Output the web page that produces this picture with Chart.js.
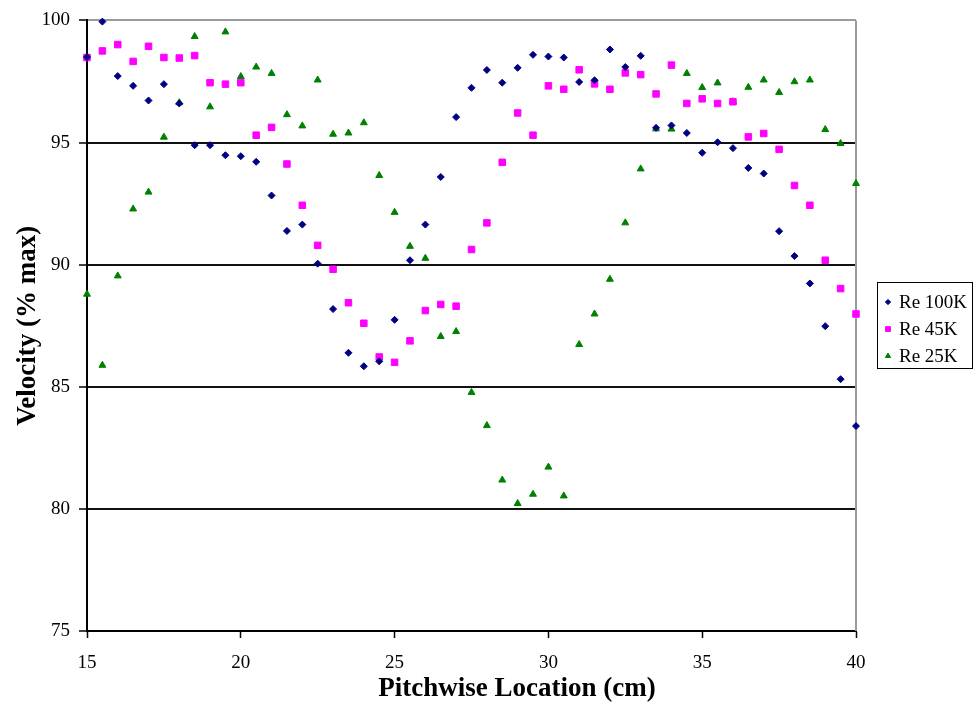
<!DOCTYPE html>
<html>
<head>
<meta charset="utf-8">
<title>Velocity vs Pitchwise Location</title>
<script src="https://cdn.jsdelivr.net/npm/chart.js@4/dist/chart.umd.min.js"></script>
<style>
  body { margin: 0; background: #fff; }
</style>
</head>
<body>
<canvas id="grafico" width="977" height="706"></canvas>
<script>
// pitchwise positions (cm)
const locations = [15, 15.5, 16, 16.5, 17, 17.5, 18, 18.5, 19, 19.5, 20, 20.5, 21, 21.5, 22, 22.5,
    23, 23.5, 24, 24.5, 25, 25.5, 26, 26.5, 27, 27.5, 28, 28.5, 29, 29.5, 30, 30.5, 31, 31.5,
    32, 32.5, 33, 33.5, 34, 34.5, 35, 35.5, 36, 36.5, 37, 37.5, 38, 38.5, 39, 39.5, 40];

const re100k = [98.5, 99.95, 97.72, 97.32, 96.72, 97.39, 96.6, 94.89, 94.89, 94.48, 94.44,
    94.21, 92.83, 91.38, 91.64, 90.04, 88.18, 86.39, 85.84, 86.04, 87.74, 90.18, 91.64, 93.59,
    96.04, 97.24, 97.97, 97.45, 98.06, 98.59, 98.52, 98.48, 97.48, 97.55, 98.81, 98.09, 98.55,
    95.6, 95.7, 95.39, 94.58, 95.01, 94.77, 93.96, 93.73, 91.37, 90.35, 89.23, 87.48, 85.31, 83.39];

const re45k = [98.48, 98.75, 99.01, 98.32, 98.94, 98.48, 98.46, 98.56, 97.45, 97.39, 97.45,
    95.3, 95.62, 94.12, 92.43, 90.79, 89.81, 88.44, 87.6, 86.22, 86.0, 86.88, 88.12, 88.37,
    88.3, 90.62, 91.71, 94.19, 96.21, 95.3, 97.32, 97.18, 97.98, 97.4, 97.18, 97.85, 97.78,
    96.99, 98.17, 96.6, 96.79, 96.6, 96.67, 95.23, 95.37, 94.72, 93.24, 92.43, 90.18, 89.02, 87.98];

const re25k = [88.79, 85.88, 89.54, 92.28, 92.97, 95.22, 96.63, 99.34, 96.46, 99.53, 97.7,
    98.09, 97.83, 96.14, 95.68, 97.56, 95.34, 95.39, 95.81, 93.65, 92.14, 90.75, 90.26, 87.06,
    87.26, 84.77, 83.41, 81.18, 80.22, 80.6, 81.71, 80.53, 86.73, 87.98, 89.4, 91.71, 93.92,
    95.56, 95.55, 97.83, 97.25, 97.44, 96.67, 97.26, 97.56, 97.05, 97.49, 97.56, 95.53, 94.96, 93.32];

const seriesNames = ['Re 100K', 'Re 45K', 'Re 25K'];
const xTicks = [15, 20, 25, 30, 35, 40];
const yTicks = [75, 80, 85, 90, 95, 100];
const xTitle = 'Pitchwise Location (cm)';
const yTitle = 'Velocity (% max)';

const serif = "'Liberation Serif', 'Times New Roman', serif";
const toPoints = vals => locations.map((x, i) => ({x: x, y: vals[i]}));

const styles = [
    {color: '#000080', pointStyle: 'rectRot', radius: 3.5},
    {color: '#ff00ff', pointStyle: 'rect', radius: 4.6},
    {color: '#008000', pointStyle: 'triangle', radius: 4}
];

// gray frame on the right side of the plot
const frame = {
    id: 'frame',
    beforeDatasetsDraw(chart) {
        const {ctx, chartArea: a} = chart;
        ctx.save();
        ctx.strokeStyle = '#9a9a9a';
        ctx.lineWidth = 2;
        ctx.beginPath();
        ctx.moveTo(a.right, a.top);
        ctx.lineTo(a.right, a.bottom);
        ctx.stroke();
        ctx.restore();
    }
};

// x title (sits right of the plot centre in the original) + boxed legend
const extras = {
    id: 'extras',
    afterDraw(chart) {
        const ctx = chart.ctx;
        ctx.save();
        ctx.fillStyle = '#000';
        ctx.font = 'bold 27px ' + serif;
        ctx.textAlign = 'center';
        ctx.textBaseline = 'middle';
        ctx.fillText(xTitle, 517, 689);

        ctx.textAlign = 'left';
        ctx.strokeStyle = '#000';
        ctx.lineWidth = 1;
        ctx.strokeRect(877.5, 282.5, 95, 86);
        ctx.font = '19px ' + serif;
        const rows = [302, 329, 356];
        seriesNames.forEach((name, i) => {
            const st = styles[i];
            ctx.fillStyle = st.color;
            ctx.strokeStyle = st.color;
            Chart.helpers.drawPoint(ctx, {
                pointStyle: st.pointStyle,
                radius: st.radius * 0.75,
                rotation: 0,
                borderWidth: 1
            }, 888, rows[i]);
            ctx.fillStyle = '#000';
            ctx.fillText(name, 899, rows[i] + 1);
        });
        ctx.restore();
    }
};

const ctx = document.getElementById('grafico');
const chart = new Chart(ctx, {
    type: 'scatter',
    data: {
        datasets: [re100k, re45k, re25k].map((vals, i) => ({
            label: seriesNames[i],
            data: toPoints(vals),
            pointStyle: styles[i].pointStyle,
            pointRadius: styles[i].radius,
            pointHoverRadius: styles[i].radius,
            backgroundColor: styles[i].color,
            borderColor: styles[i].color,
            borderWidth: 1,
            showLine: false,
            clip: false
        }))
    },
    options: {
        responsive: false,
        animation: false,
        layout: {
            padding: {top: 16, right: 121, bottom: 0, left: 0}
        },
        plugins: {
            legend: {display: false},
            tooltip: {enabled: false}
        },
        scales: {
            x: {
                type: 'linear',
                position: 'bottom',
                min: 15,
                max: 40,
                afterBuildTicks: s => { s.ticks = xTicks.map(v => ({value: v})); },
                afterFit: s => { s.height = 75; },
                ticks: {
                    font: {family: serif, size: 19},
                    color: '#000',
                    padding: 14,
                    maxRotation: 0
                },
                grid: {
                    drawOnChartArea: false,
                    drawTicks: true,
                    tickLength: 7,
                    tickColor: '#000',
                    tickWidth: 1.5
                },
                border: {color: '#000', width: 2}
            },
            y: {
                min: 75,
                max: 100,
                afterBuildTicks: s => { s.ticks = yTicks.map(v => ({value: v})); },
                afterFit: s => { s.width = 87; },
                ticks: {
                    font: {family: serif, size: 19},
                    color: '#000',
                    padding: 9
                },
                grid: {
                    color: c => (c.tick && c.tick.value === 100) ? '#9a9a9a' : '#111',
                    lineWidth: 2,
                    drawTicks: true,
                    tickLength: 8,
                    tickColor: '#000',
                    tickWidth: 1.5
                },
                border: {color: '#000', width: 2},
                title: {
                    display: true,
                    text: yTitle,
                    color: '#000',
                    font: {family: serif, size: 27, weight: 'bold'},
                    padding: {top: 12, bottom: 0}
                }
            }
        }
    },
    plugins: [frame, extras]
});
</script>
</body>
</html>
